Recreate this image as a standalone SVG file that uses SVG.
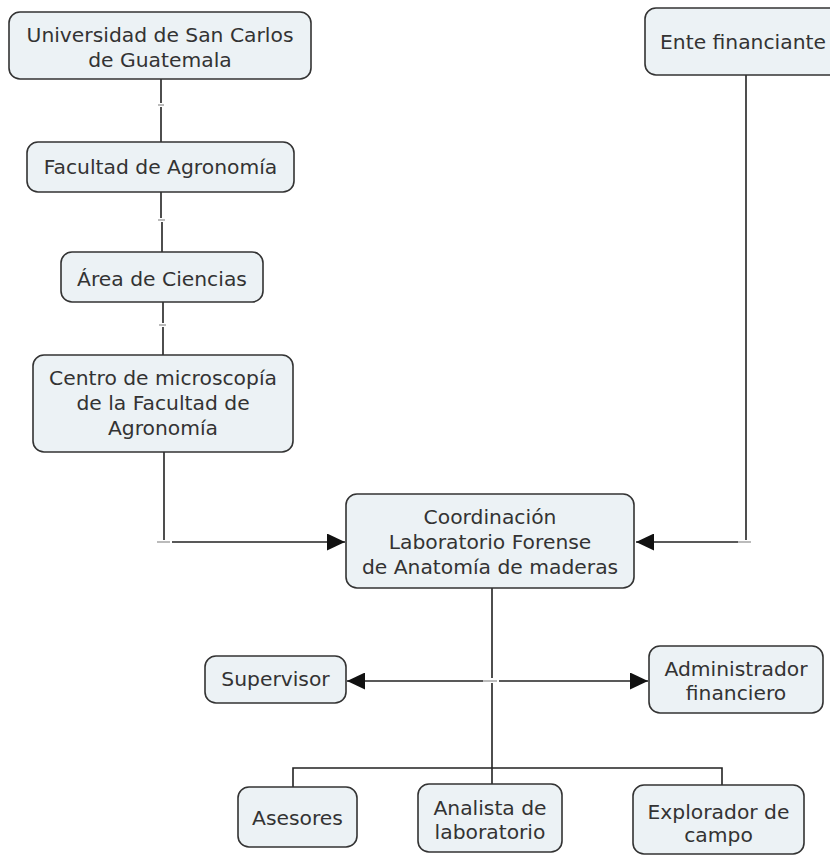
<svg xmlns="http://www.w3.org/2000/svg" width="830" height="856" viewBox="0 0 830 856">
<defs>
<style>
.box{fill:#ecf2f5;stroke:#333;stroke-width:1.6}
.t{font-family:"DejaVu Sans",Verdana,sans-serif;font-size:20.3px;fill:#333;text-anchor:middle;dominant-baseline:central}
.ln{stroke:#222;stroke-width:1.6;fill:none}
.tk{stroke:#aaa;stroke-width:1.6;fill:none}
</style>
<marker id="ah" markerUnits="userSpaceOnUse" markerWidth="19" markerHeight="17" refX="18" refY="8.5" orient="auto">
<path d="M0,0 L18,8.5 L0,17 Z" fill="#111"/>
</marker>
</defs>
<rect width="830" height="856" fill="#fff"/>
<g id="connectors">
<path class="ln" d="M161,79 V103 M161,107 V142"/>
<path class="tk" d="M158,105 H164"/>
<path class="ln" d="M161,192 V218 M162,222 V252"/>
<path class="tk" d="M158,220 H165"/>
<path class="ln" d="M163,302 V323 M163,327 V355"/>
<path class="tk" d="M159,325 H166"/>
<path class="ln" d="M164,452 V540"/>
<path class="tk" d="M157,542 H170"/>
<path class="ln" d="M172,542 H345" marker-end="url(#ah)"/>
<path class="ln" d="M746,75 V540"/>
<path class="tk" d="M738,542 H751"/>
<path class="ln" d="M738,542 H636" marker-end="url(#ah)"/>
<path class="ln" d="M492,588 V678 M492,683 V784"/>
<path class="tk" d="M483,681 H497"/>
<path class="ln" d="M483,681 H347" marker-end="url(#ah)"/>
<path class="ln" d="M499,681 H648" marker-end="url(#ah)"/>
<path class="ln" d="M293,787 V768 H722 V785"/>
</g>
<g id="n1"><rect class="box" x="9" y="12" width="302" height="67" rx="11"/>
<text class="t" x="160" y="35">Universidad de San Carlos</text><text class="t" x="160" y="60">de Guatemala</text></g>
<g id="n2"><rect class="box" x="27" y="142" width="267" height="50" rx="11"/>
<text class="t" x="160.5" y="167">Facultad de Agronomía</text></g>
<g id="n3"><rect class="box" x="61" y="252" width="202" height="50" rx="11"/>
<text class="t" x="162" y="279">Área de Ciencias</text></g>
<g id="n4"><rect class="box" x="33" y="355" width="260" height="97" rx="11"/>
<text class="t" x="163" y="378">Centro de microscopía</text><text class="t" x="163" y="403">de la Facultad de</text><text class="t" x="163" y="428">Agronomía</text></g>
<g id="n5"><rect class="box" x="645" y="8" width="200" height="67" rx="11"/>
<text class="t" x="743" y="42">Ente financiante</text></g>
<g id="n6"><rect class="box" x="346" y="494" width="288" height="94" rx="11"/>
<text class="t" x="490" y="517">Coordinación</text><text class="t" x="490" y="542">Laboratorio Forense</text><text class="t" x="490" y="567">de Anatomía de maderas</text></g>
<g id="n7"><rect class="box" x="205" y="656" width="141" height="47" rx="11"/>
<text class="t" x="275.5" y="679">Supervisor</text></g>
<g id="n8"><rect class="box" x="649" y="646" width="174" height="67" rx="11"/>
<text class="t" x="736" y="669">Administrador</text><text class="t" x="736" y="693">financiero</text></g>
<g id="n9"><rect class="box" x="238" y="787" width="119" height="60" rx="11"/>
<text class="t" x="297.5" y="818">Asesores</text></g>
<g id="n10"><rect class="box" x="418" y="784" width="144" height="68" rx="11"/>
<text class="t" x="490" y="808">Analista de</text><text class="t" x="490" y="832">laboratorio</text></g>
<g id="n11"><rect class="box" x="633" y="785" width="171" height="69" rx="11"/>
<text class="t" x="718.5" y="812">Explorador de</text><text class="t" x="718.5" y="835">campo</text></g>
</svg>
